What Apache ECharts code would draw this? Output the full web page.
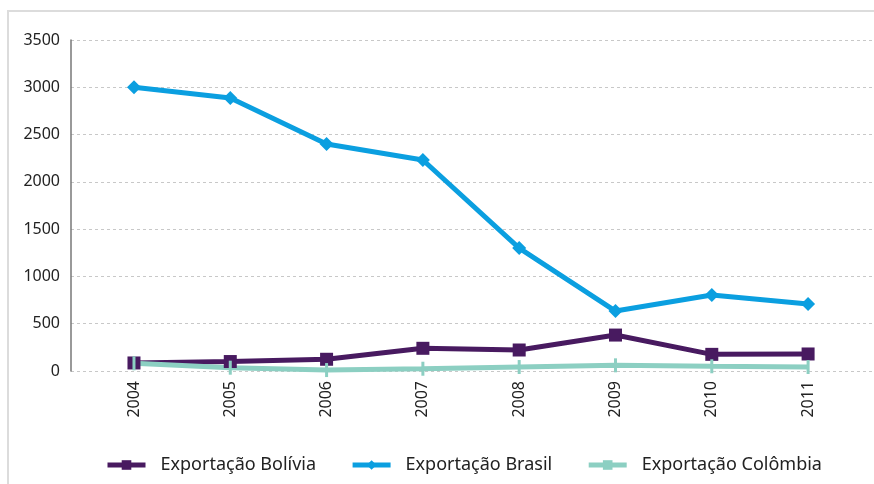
<!DOCTYPE html>
<html>
<head>
<meta charset="utf-8">
<script src="https://cdn.jsdelivr.net/npm/echarts@6/dist/echarts.min.js"></script>
<style>
  html, body { margin: 0; padding: 0; background: #fff; }
  #chart { width: 874px; height: 484px; }
</style>
</head>
<body>
<div id="chart"></div>
<script>
// dados
const years = ['2004', '2005', '2006', '2007', '2008', '2009', '2010', '2011'];
const bolivia = [85, 100, 124, 240, 222, 380, 176, 180];
const brasil = [3000, 2887, 2400, 2231, 1300, 634, 804, 708];
const colombia = [81, 35, 10, 24, 42, 60, 50, 42];

const FONT = '"Noto Sans", "Open Sans", sans-serif';
const BAR_MARK = 'path://M0,0 L2,0 L2,12 L0,12 Z';

function pairs(arr) {
    return arr.map((v, i) => [i, v]);
}

function lineSeries(name, arr, color, symbol, size) {
    return {
        name,
        type: 'line',
        data: pairs(arr),
        symbol,
        symbolSize: size,
        showSymbol: true,
        lineStyle: { color, width: 5 },
        itemStyle: { color },
        emphasis: { disabled: true },
        z: 3
    };
}

const chart = echarts.init(document.getElementById('chart'));
chart.setOption({
    animation: false,
    textStyle: { fontFamily: FONT },
    graphic: [{
        type: 'rect',
        shape: { x: 8, y: 11, width: 900, height: 520 },
        style: { fill: 'none', stroke: '#dcdcdc', lineWidth: 2 },
        silent: true,
        z: -1
    }],
    grid: { left: 71, right: 1, top: 40, bottom: 113 },
    legend: {
        top: 451,
        left: 100,
        itemWidth: 38,
        itemHeight: 12,
        itemGap: 34,
        lineStyle: { width: 5 },
        textStyle: { fontFamily: FONT, fontSize: 18, color: '#222', padding: [0, 0, 0, 10] },
        data: ['Exportação Bolívia', 'Exportação Brasil', 'Exportação Colômbia']
    },
    xAxis: {
        type: 'value',
        min: -0.654,
        max: 7.674,
        splitLine: { show: false },
        axisLine: { show: false },
        axisTick: { show: false },
        axisLabel: {
            customValues: years.map((y, i) => i),
            formatter: v => years[Math.round(v)] || '',
            rotate: 90,
            margin: 10,
            fontSize: 16,
            color: '#222',
            fontFamily: FONT
        }
    },
    yAxis: {
        type: 'value',
        min: 0,
        max: 3500,
        interval: 500,
        axisLine: { show: true, onZero: false, lineStyle: { color: '#777', width: 1.5 } },
        axisTick: { show: false },
        axisLabel: { fontSize: 16, color: '#222', margin: 11, fontFamily: FONT, formatter: v => String(v) },
        splitLine: { lineStyle: { color: '#c8c8c8', type: [3, 3], width: 1 } }
    },
    series: [
        lineSeries('Exportação Bolívia', bolivia, '#481a60', 'rect', 13),
        lineSeries('Exportação Brasil', brasil, '#0b9fe0', 'diamond', 14),
        lineSeries('Exportação Colômbia', colombia, '#8ccfc2', BAR_MARK, [3, 14])
    ]
});
</script>
</body>
</html>
